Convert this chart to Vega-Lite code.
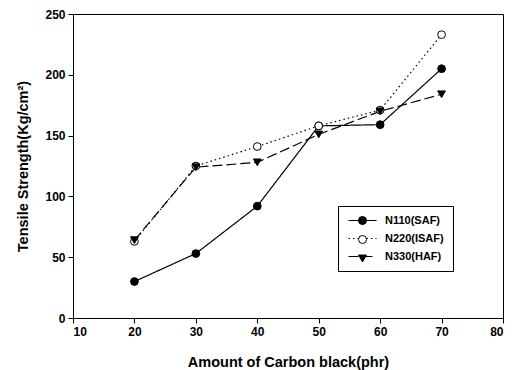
{
  "$schema": "https://vega.github.io/schema/vega-lite/v6.json",
  "width": 430,
  "height": 304,
  "autosize": {"type": "none"},
  "padding": {"left": 73, "top": 14, "right": 14, "bottom": 52},
  "background": "white",
  "config": {
    "font": "Liberation Sans",
    "view": {"stroke": "black", "strokeWidth": 1},
    "axis": {
      "grid": false,
      "domainColor": "black",
      "tickColor": "black",
      "labelColor": "black",
      "titleColor": "black",
      "labelFont": "Liberation Sans",
      "titleFont": "Liberation Sans",
      "labelFontWeight": "bold",
      "labelFontSize": 12,
      "titleFontSize": 14.5,
      "titleFontWeight": "bold",
      "tickSize": 5,
      "labelPadding": 3
    },
    "legend": {
      "labelFont": "Liberation Sans",
      "labelFontWeight": "bold",
      "labelFontSize": 11,
      "labelColor": "black"
    }
  },
  "data": {
    "values": [
      {"carbon": 20, "strength": 30, "series": "N110(SAF)"},
      {"carbon": 30, "strength": 53, "series": "N110(SAF)"},
      {"carbon": 40, "strength": 92, "series": "N110(SAF)"},
      {"carbon": 50, "strength": 158, "series": "N110(SAF)"},
      {"carbon": 60, "strength": 159, "series": "N110(SAF)"},
      {"carbon": 70, "strength": 205, "series": "N110(SAF)"},
      {"carbon": 20, "strength": 63, "series": "N220(ISAF)"},
      {"carbon": 30, "strength": 125, "series": "N220(ISAF)"},
      {"carbon": 40, "strength": 141, "series": "N220(ISAF)"},
      {"carbon": 50, "strength": 158, "series": "N220(ISAF)"},
      {"carbon": 60, "strength": 171, "series": "N220(ISAF)"},
      {"carbon": 70, "strength": 233, "series": "N220(ISAF)"},
      {"carbon": 20, "strength": 64, "series": "N330(HAF)"},
      {"carbon": 30, "strength": 124, "series": "N330(HAF)"},
      {"carbon": 40, "strength": 128, "series": "N330(HAF)"},
      {"carbon": 50, "strength": 151, "series": "N330(HAF)"},
      {"carbon": 60, "strength": 170, "series": "N330(HAF)"},
      {"carbon": 70, "strength": 184, "series": "N330(HAF)"}
    ]
  },
  "encoding": {
    "x": {
      "field": "carbon",
      "type": "quantitative",
      "scale": {"domain": [10, 80], "nice": false},
      "axis": {"values": [10, 20, 30, 40, 50, 60, 70, 80], "title": "Amount of Carbon black(phr)", "titlePadding": 18}
    },
    "y": {
      "field": "strength",
      "type": "quantitative",
      "scale": {"domain": [0, 250], "nice": false},
      "axis": {"values": [0, 50, 100, 150, 200, 250], "title": "Tensile Strength(Kg/cm²)", "titlePadding": 14}
    }
  },
  "layer": [
    {
      "mark": {"type": "line", "color": "black", "strokeWidth": 1.2},
      "encoding": {
        "strokeDash": {
          "field": "series",
          "type": "nominal",
          "scale": {"domain": ["N110(SAF)", "N220(ISAF)", "N330(HAF)"], "range": [[1, 0], [1.5, 3], [10, 4]]},
          "legend": {
            "title": null,
            "orient": "none",
            "legendX": 265,
            "legendY": 192,
            "strokeColor": "black",
            "fillColor": "white",
            "padding": 9,
            "symbolType": "M-3.5,0H3.5",
            "symbolSize": 64,
            "symbolOffset": 10,
            "symbolStrokeColor": "black",
            "symbolFillColor": "transparent",
            "symbolStrokeWidth": 1.2,
            "rowPadding": 6,
            "labelOffset": 17
          }
        }
      }
    },
    {
      "mark": {"type": "point", "filled": true, "stroke": "black", "strokeWidth": 1, "size": 60, "opacity": 1},
      "encoding": {
        "shape": {
          "field": "series",
          "type": "nominal",
          "scale": {"domain": ["N330(HAF)", "N220(ISAF)", "N110(SAF)"], "range": ["triangle-down", "circle", "circle"]},
          "legend": {
            "title": null,
            "orient": "none",
            "legendX": 265,
            "legendY": 192,
            "values": ["N110(SAF)", "N220(ISAF)", "N330(HAF)"],
            "padding": 9,
            "symbolSize": 64,
            "symbolOffset": 10,
            "symbolStrokeWidth": 1,
            "rowPadding": 6,
            "labelOffset": 17,
            "labelExpr": "' '",
            "labelOpacity": 0
          }
        },
        "fill": {
          "field": "series",
          "type": "nominal",
          "scale": {"domain": ["N330(HAF)", "N220(ISAF)", "N110(SAF)"], "range": ["black", "white", "black"]},
          "legend": {
            "title": null,
            "orient": "none",
            "legendX": 265,
            "legendY": 192,
            "values": ["N110(SAF)", "N220(ISAF)", "N330(HAF)"],
            "padding": 9,
            "symbolSize": 64,
            "symbolOffset": 10,
            "symbolStrokeWidth": 1,
            "rowPadding": 6,
            "labelOffset": 17,
            "labelExpr": "' '",
            "labelOpacity": 0
          }
        }
      }
    }
  ]
}
